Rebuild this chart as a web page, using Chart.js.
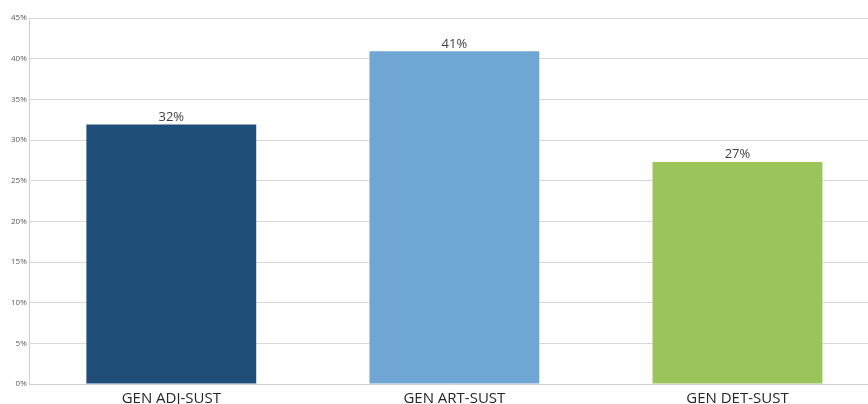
<!DOCTYPE html>
<html>
<head>
<meta charset="utf-8">
<script src="https://cdn.jsdelivr.net/npm/chart.js@4"></script>
<style>
  html, body { margin: 0; padding: 0; background: #fff; overflow: hidden; }
  #wrap { position: relative; width: 879px; height: 404px; }
</style>
</head>
<body>
<div id="wrap"><canvas id="chart"></canvas></div>
<script>
// Datos
const categories = ['GEN ADJ-SUST', 'GEN ART-SUST', 'GEN DET-SUST'];
const values = [31.9, 40.9, 27.3];
const barColors = ['#1F4E79', '#6FA6D4', '#9BC45A'];

// Etiquetas de valor encima de cada barra
const valueLabels = {
    id: 'valueLabels',
    afterDatasetsDraw(chart) {
        const { ctx } = chart;
        const meta = chart.getDatasetMeta(0);
        ctx.save();
        ctx.font = '13px "Open Sans", sans-serif';
        ctx.fillStyle = '#404040';
        ctx.textAlign = 'center';
        ctx.textBaseline = 'bottom';
        meta.data.forEach((bar, i) => {
            ctx.fillText(Math.round(values[i]) + '%', bar.x, bar.y - 1);
        });
        ctx.restore();
    }
};

new Chart(document.getElementById('chart'), {
    type: 'bar',
    data: {
        labels: categories,
        datasets: [{
            data: values,
            backgroundColor: barColors,
            borderWidth: 0,
            categoryPercentage: 1,
            barPercentage: 0.6,
        }]
    },
    options: {
        responsive: true,
        maintainAspectRatio: false,
        animation: false,
        layout: { padding: { top: 18, right: 0, left: 8, bottom: -10 } },
        plugins: {
            legend: { display: false },
            tooltip: { enabled: false },
        },
        scales: {
            y: {
                min: 0,
                max: 45,
                ticks: {
                    stepSize: 5,
                    color: '#595959',
                    font: { family: 'Open Sans', size: 8 },
                    padding: 3,
                    callback: (v) => v + '%',
                },
                grid: { color: '#D9D9D9', drawTicks: false, lineWidth: 1 },
                border: { color: '#D0D0D0' },
            },
            x: {
                ticks: {
                    color: '#262626',
                    font: { family: 'Open Sans', size: 15 },
                    padding: 6,
                },
                grid: { display: false, drawTicks: false },
                border: { color: '#D0D0D0' },
            }
        }
    },
    plugins: [valueLabels]
});
</script>
</body>
</html>
